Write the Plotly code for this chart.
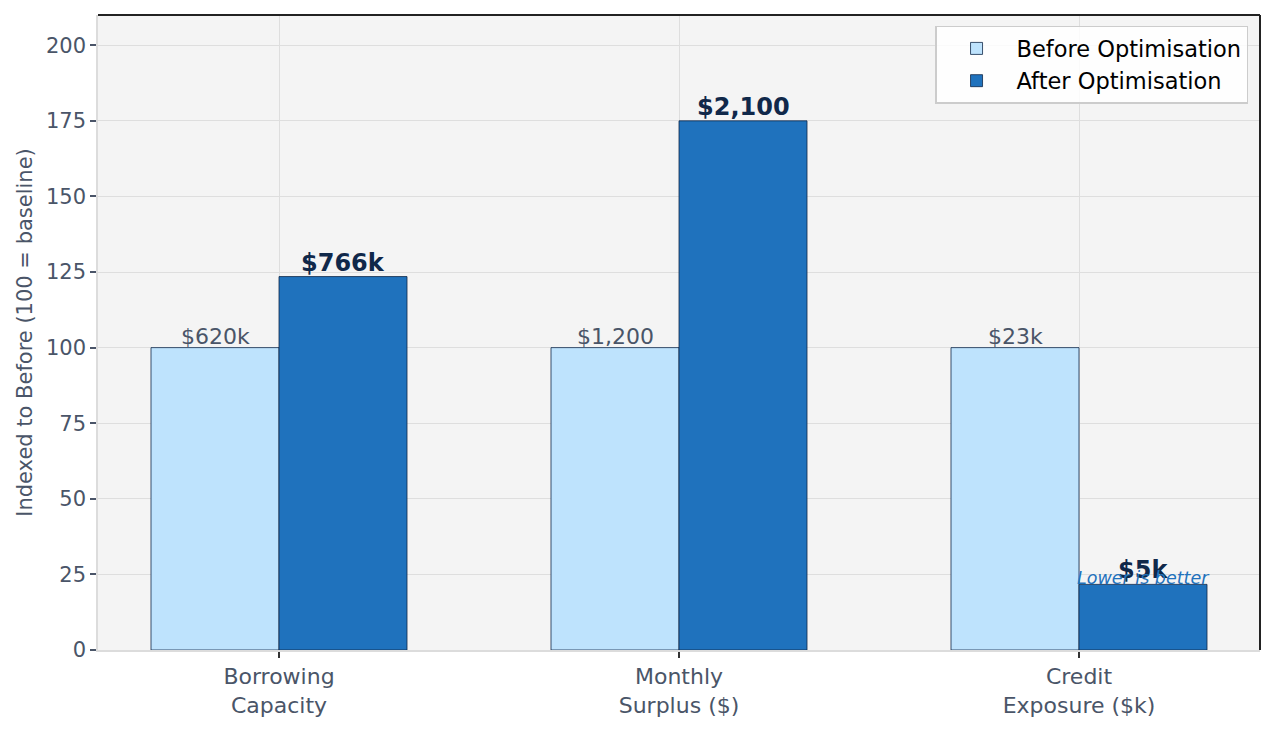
import plotly.graph_objects as go

categories = ["Borrowing<br>Capacity", "Monthly<br>Surplus ($)", "Credit<br>Exposure ($k)"]
before_idx = [100, 100, 100]
after_idx = [123.5, 175, 21.7]
before_labels = ["$620k", "$1,200", "$23k"]
after_labels = ["$766k", "$2,100", "$5k"]
y_ticks = [0, 25, 50, 75, 100, 125, 150, 175, 200]

FONT = "DejaVu Sans"
TXT = "#4a5568"
NAVY = "#10284a"
BAR_W = 0.32
xs = list(range(len(categories)))

fig = go.Figure()
fig.add_trace(go.Bar(
    x=xs, y=before_idx, width=BAR_W, offset=-BAR_W, name="Before Optimisation",
    marker=dict(color="#bee3fd", line=dict(color="#0f2747", width=0.8)),
))
fig.add_trace(go.Bar(
    x=xs, y=after_idx, width=BAR_W, offset=0, name="After Optimisation",
    marker=dict(color="#1f72bd", line=dict(color="#0f2747", width=0.8)),
))

annotations = []
for i, (b, lab) in enumerate(zip(before_idx, before_labels)):
    annotations.append(dict(x=i - BAR_W / 2, y=b, text=lab, showarrow=False,
                            xref="x", yref="y", yanchor="bottom", xanchor="center",
                            font=dict(family=FONT, size=22, color=TXT), yshift=-3))
for i, (a, lab) in enumerate(zip(after_idx, after_labels)):
    annotations.append(dict(x=i + BAR_W / 2, y=a, text="<b>" + lab + "</b>", showarrow=False,
                            xref="x", yref="y", yanchor="bottom", xanchor="center",
                            font=dict(family=FONT, size=24, color=NAVY), yshift=-2))
annotations.append(dict(x=2 + BAR_W / 2, y=after_idx[2] + 2, text="<i>Lower is better</i>",
                        showarrow=False, xref="x", yref="y", yanchor="middle", xanchor="center",
                        font=dict(family=FONT, size=17.5, color="#1f72bd")))

shapes = [
    dict(type="line", xref="paper", yref="paper", x0=0, x1=1, y0=1, y1=1,
         line=dict(color="#222222", width=2)),
    dict(type="line", xref="paper", yref="paper", x0=1, x1=1, y0=0, y1=1,
         line=dict(color="#222222", width=2)),
]

fig.update_layout(
    width=1275, height=729,
    margin=dict(l=98, r=15, t=15, b=79),
    paper_bgcolor="white", plot_bgcolor="#f4f4f4",
    font=dict(family=FONT, color=TXT),
    barmode="overlay",
    showlegend=True,
    legend=dict(x=0.9897, y=0.983, xanchor="right", yanchor="top",
                bgcolor="rgba(255,255,255,0.85)", bordercolor="#cccccc", borderwidth=1.5,
                itemwidth=70, tracegroupgap=4,
                font=dict(family=FONT, size=22.5, color="black"), traceorder="normal"),
    annotations=annotations,
    shapes=shapes,
    xaxis=dict(
        range=[-0.4525, 2.4525], tickmode="array", tickvals=xs, ticktext=categories,
        tickfont=dict(family=FONT, size=22, color=TXT),
        ticks="outside", ticklen=6, tickwidth=1.5, tickcolor="#333333",
        showgrid=True, gridcolor="#dedede", gridwidth=1,
        showline=True, linecolor="#dcdcdc", linewidth=2, zeroline=False,
    ),
    yaxis=dict(
        range=[0, 210], tickmode="array", tickvals=y_ticks,
        tickfont=dict(family=FONT, size=21, color=TXT),
        ticks="outside", ticklen=6, tickwidth=1.5, tickcolor=TXT,
        showgrid=True, gridcolor="#dedede", gridwidth=1,
        showline=True, linecolor="#dcdcdc", linewidth=1.5, zeroline=False,
        title=dict(text="Indexed to Before (100 = baseline)",
                   font=dict(family=FONT, size=21, color=TXT), standoff=8),
    ),
)

fig.write_html("out.html")
